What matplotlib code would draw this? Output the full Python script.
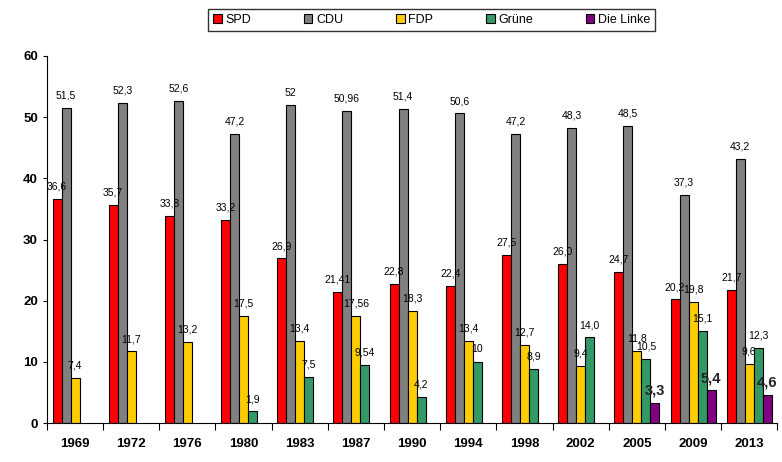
import numpy as np
import matplotlib
matplotlib.use('Agg')
import matplotlib.pyplot as plt

plt.rcParams['font.family'] = ['Liberation Sans', 'DejaVu Sans']

#----------------------------------------------------------------------------
# Data (Bundestagswahl results, %)
#----------------------------------------------------------------------------
years  = ['1969', '1972', '1976', '1980', '1983', '1987', '1990',
          '1994', '1998', '2002', '2005', '2009', '2013']
parties = ['SPD', 'CDU', 'FDP', 'Grüne', 'Die Linke']

spd    = [36.6, 35.7, 33.8, 33.2, 26.9, 21.41, 22.8, 22.4, 27.5, 26.0, 24.7, 20.2, 21.7]
cdu    = [51.5, 52.3, 52.6, 47.2, 52.0, 50.96, 51.4, 50.6, 47.2, 48.3, 48.5, 37.3, 43.2]
fdp    = [7.4, 11.7, 13.2, 17.5, 13.4, 17.56, 18.3, 13.4, 12.7, 9.4, 11.8, 19.8, 9.6]
gruene = [np.nan, np.nan, np.nan, 1.9, 7.5, 9.54, 4.2, 10.0, 8.9, 14.0, 10.5, 15.1, 12.3]
linke  = [np.nan] * 10 + [3.3, 5.4, 4.6]

spd_lbl    = ['36,6', '35,7', '33,8', '33,2', '26,9', '21,41', '22,8', '22,4', '27,5', '26,0', '24,7', '20,2', '21,7']
cdu_lbl    = ['51,5', '52,3', '52,6', '47,2', '52', '50,96', '51,4', '50,6', '47,2', '48,3', '48,5', '37,3', '43,2']
fdp_lbl    = ['7,4', '11,7', '13,2', '17,5', '13,4', '17,56', '18,3', '13,4', '12,7', '9,4', '11,8', '19,8', '9,6']
gruene_lbl = ['', '', '', '1,9', '7,5', '9,54', '4,2', '10', '8,9', '14,0', '10,5', '15,1', '12,3']
linke_lbl  = [''] * 10 + ['3,3', '5,4', '4,6']

colors = ['#FF0000', '#808080', '#FFCC00', '#339966', '#800080']

#----------------------------------------------------------------------------
def main():
    series = [spd, cdu, fdp, gruene, linke]
    labels = [spd_lbl, cdu_lbl, fdp_lbl, gruene_lbl, linke_lbl]

    fig = plt.figure( figsize = (7.82, 4.62), dpi = 100 )
    ax  = fig.add_axes( [0.060, 0.0844, 0.934, 0.7944] )

    x = np.arange( len(years) )
    w = 0.16
    handles = []
    for i, (vals, lbls) in enumerate( zip(series, labels) ):
        pos = x + (i - 2) * w
        b = ax.bar( pos, vals, width = w, color = colors[i],
                    edgecolor = 'black', linewidth = 0.8, label = parties[i] )
        handles.append( b )
        for p, v, t in zip( pos, vals, lbls ):
            if not t: continue
            if i == 4:
                ax.text( p, v + 0.8, t, ha = 'center', va = 'bottom',
                         fontsize = 10.5, fontweight = 'bold', color = '#222222' )
            else:
                ax.text( p, v + 1.2, t, ha = 'center', va = 'bottom',
                         fontsize = 7.5 )

    ax.set_xlim( -0.5, len(years) - 0.5 )
    ax.set_ylim( 0, 60 )
    ax.set_yticks( range(0, 61, 10) )
    ax.set_yticklabels( [str(v) for v in range(0, 61, 10)],
                        fontsize = 9.5, fontweight = 'bold' )

    # boundary ticks and centred labels
    ax.set_xticks( np.arange( -0.5, len(years), 1.0 ) )
    ax.set_xticklabels( [] )
    ax.set_xticks( x, minor = True )
    ax.set_xticklabels( years, minor = True, fontsize = 9.5, fontweight = 'bold' )
    ax.tick_params( axis = 'x', which = 'major', length = 5, direction = 'out' )
    ax.tick_params( axis = 'x', which = 'minor', length = 0, pad = 11 )
    ax.tick_params( axis = 'y', length = 3, direction = 'out' )

    for s in ['top', 'right']:
        ax.spines[s].set_visible( False )

    leg = fig.legend( handles = handles, loc = 'upper center',
                      bbox_to_anchor = (0.552, 0.995), ncol = 5,
                      frameon = True, fancybox = False, edgecolor = 'black',
                      fontsize = 9, handlelength = 0.7, handleheight = 0.7,
                      columnspacing = 4.2, handletextpad = 0.3,
                      borderpad = 0.4 )
    leg.get_frame().set_linewidth( 1.0 )

    fig.savefig( 'out.png', dpi = 100 )

#----------------------------------------------------------------------------
if __name__ == "__main__":
    main()
